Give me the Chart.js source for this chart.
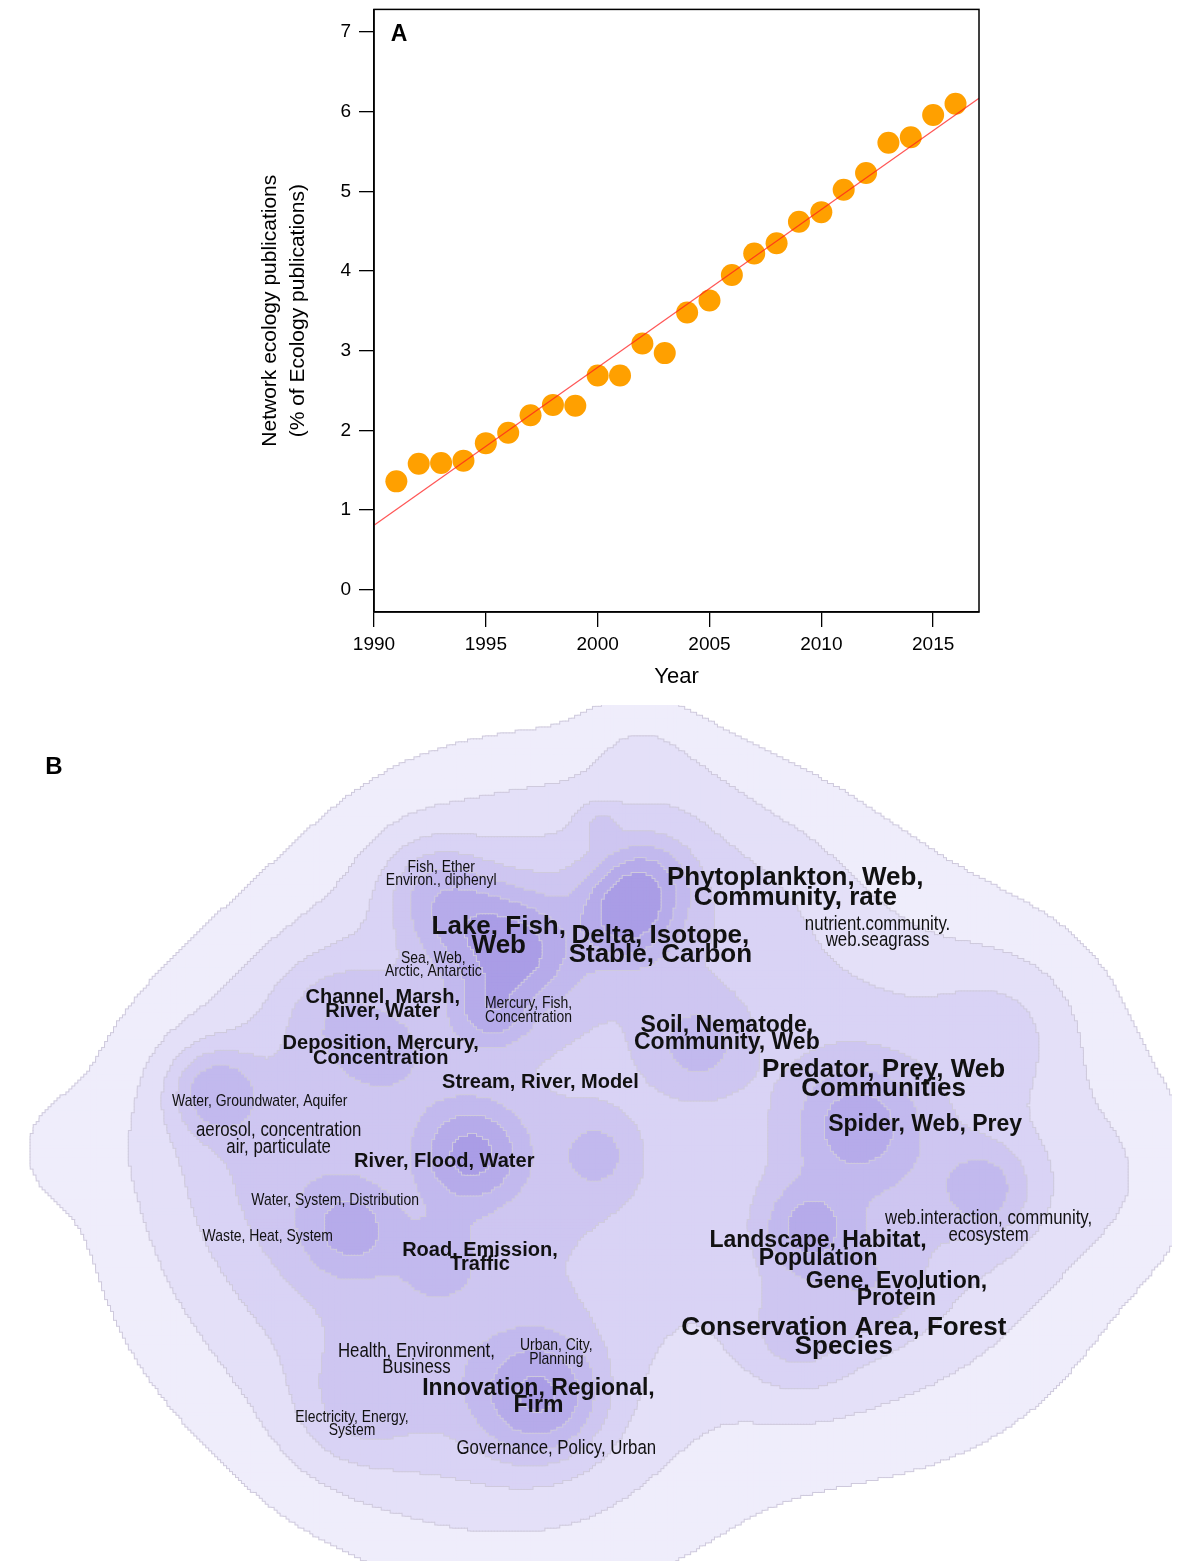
<!DOCTYPE html>
<html>
<head>
<meta charset="utf-8">
<script src="https://cdn.jsdelivr.net/npm/chart.js@4.4.1/dist/chart.umd.min.js"></script>
<style>
  html, body { margin: 0; padding: 0; background: #fff; overflow: hidden; }
  #wrapA { position: absolute; left: 0; top: -10px; width: 1177px; height: 710px; }
  #wrapB { position: absolute; left: 0; top: 700px; width: 1177px; height: 866px; }
</style>
</head>
<body>
<div id="wrapA"><canvas id="chartA"></canvas></div>
<div id="wrapB"><canvas id="chartB"></canvas></div>
<script>
// --- Panel A data ---
const years = [1991, 1992, 1993, 1994, 1995, 1996, 1997, 1998, 1999, 2000, 2001, 2002, 2003,
  2004, 2005, 2006, 2007, 2008, 2009, 2010, 2011, 2012, 2013, 2014, 2015, 2016];
const sharePct = [1.36, 1.58, 1.59, 1.62, 1.84, 1.97, 2.19, 2.32, 2.31, 2.69, 2.69, 3.09, 2.97,
  3.48, 3.63, 3.95, 4.22, 4.35, 4.62, 4.74, 5.02, 5.23, 5.61, 5.68, 5.96, 6.10];
const fitYears = [1990, 2017.05];
const fitPct = [0.81, 6.17];
const xTickYears = [1990, 1995, 2000, 2005, 2010, 2015];
const yTickPct = [0, 1, 2, 3, 4, 5, 6, 7];

// --- Panel B data (map coordinates, y grows downward) ---
// density hotspots of the topic map: broad base, mid-level regions, cores
const hotX = [600, 430, 620, 820, 980, 920, 560, 400, 280, 280, 60, 640, 1120, 680,
  480, 640, 760, 240, 320, 340, 560, 600, 850, 820, 980, 1000, 500, 380,
  520, 430, 470, 625, 645, 490, 210, 470, 350, 440, 597, 700, 860, 810, 990, 800, 880, 540, 350, 330, 390, 600, 1010];
const hotY = [450, 290, 215, 300, 420, 590, 700, 660, 430, 580, 450, 45, 480, 95,
  200, 200, 190, 430, 530, 320, 420, 520, 420, 580, 500, 320, 700, 700,
  250, 185, 225, 215, 180, 310, 390, 455, 530, 560, 455, 345, 425, 530, 490, 640, 590, 700, 710, 310, 355, 120, 330];
const hotW = [0.30, 0.25, 0.24, 0.25, 0.28, 0.25, 0.27, 0.22, 0.28, 0.22, 0.13, 0.16, 0.15, 0.12,
  0.27, 0.27, 0.18, 0.27, 0.27, 0.18, 0.25, 0.22, 0.27, 0.27, 0.18, 0.14, 0.27, 0.18,
  0.90, 0.50, 0.60, 0.90, 0.70, 0.70, 0.70, 1.10, 0.60, 0.40, 0.40, 0.50, 0.70, 0.70, 0.50, 0.40, 0.30, 1.00, 0.30, 0.30, 0.30, 0.30, 0.20];
const hotS = [230, 115, 100, 115, 130, 120, 130, 110, 120, 120, 38, 35, 60, 45,
  90, 90, 70, 80, 80, 70, 100, 90, 90, 90, 70, 60, 90, 70,
  35, 35, 35, 30, 30, 25, 30, 35, 30, 30, 25, 35, 40, 30, 30, 40, 35, 40, 40, 40, 40, 15, 45];
const levelCuts = [0.15, 0.35, 0.6, 0.85, 1.1, 1.4, 1.75];

const labelText = [
  'Fish, Ether\nEnviron., diphenyl', 'Lake, Fish,\nWeb', 'Delta, Isotope,\nStable, Carbon',
  'Phytoplankton, Web,\nCommunity, rate', 'nutrient.community.\nweb.seagrass', 'Sea, Web,\nArctic, Antarctic',
  'Channel, Marsh,\nRiver, Water', 'Mercury, Fish,\nConcentration', 'Soil, Nematode,\nCommunity, Web',
  'Deposition, Mercury,\nConcentration', 'Stream, River, Model', 'Predator, Prey, Web\nCommunities',
  'Water, Groundwater, Aquifer', 'aerosol, concentration\nair, particulate', 'Spider, Web, Prey',
  'River, Flood, Water', 'Water, System, Distribution', 'web.interaction, community,\necosystem',
  'Waste, Heat, System', 'Landscape, Habitat,\nPopulation', 'Road, Emission,\nTraffic',
  'Gene, Evolution,\nProtein', 'Conservation Area, Forest\nSpecies', 'Health, Environment,\nBusiness',
  'Urban, City,\nPlanning', 'Innovation, Regional,\nFirm', 'Electricity, Energy,\nSystem',
  'Governance, Policy, Urban'
];
const labelX = [440, 498, 661, 797, 880, 432, 381, 528, 728, 379, 540, 886, 257, 276, 928,
  443, 333, 992, 265, 820, 479, 899, 846, 415, 556, 538, 350, 556];
const labelY = [171, 234, 243, 185, 230, 263, 303, 309, 333, 350, 382, 379, 401, 439, 425,
  462, 501, 528, 538, 551, 559, 592, 640, 662, 655, 700, 727, 752];
const labelRank = [0, 4, 4, 4, 1, 0, 2, 0, 3, 2, 2, 4, 0, 1, 3, 2, 0, 1, 0, 3, 2, 3, 4, 1, 0, 3, 0, 1];

const FONT = "'Liberation Sans', Arial, Helvetica, sans-serif";
const levelColors = ['#efedfb', '#e4e0f8', '#d9d3f5', '#cec6f1', '#c2b9ee', '#b6abea', '#aa9de6'];
const edgeColor = '#cfcadd';
const rankStyle = [
  { size: 17, bold: false, squeeze: 0.82 },
  { size: 20.5, bold: false, squeeze: 0.82 },
  { size: 20, bold: true, squeeze: 1 },
  { size: 23, bold: true, squeeze: 1 },
  { size: 26, bold: true, squeeze: 1 }
];

// --- Panel A ---
const boxPlugin = {
  id: 'box',
  afterDraw(chart) {
    const { ctx, chartArea: a } = chart;
    ctx.save();
    ctx.strokeStyle = '#000';
    ctx.lineWidth = 1.5;
    ctx.strokeRect(a.left, a.top, a.right - a.left, a.bottom - a.top);
    ctx.font = 'bold 23px ' + FONT;
    ctx.fillStyle = '#000';
    ctx.textAlign = 'center';
    ctx.textBaseline = 'middle';
    ctx.fillText('A', a.left + 25, a.top + 25);
    ctx.restore();
  }
};

new Chart(document.getElementById('chartA'), {
  type: 'scatter',
  data: {
    datasets: [
      {
        label: 'Fit',
        data: fitYears.map((x, i) => ({ x, y: fitPct[i] })),
        showLine: true,
        borderColor: 'rgba(255, 30, 30, 0.75)',
        borderWidth: 1.2,
        pointRadius: 0
      },
      {
        label: 'Network ecology',
        data: years.map((x, i) => ({ x, y: sharePct[i] })),
        backgroundColor: '#ffa000',
        borderWidth: 0,
        pointRadius: 11
      }
    ]
  },
  options: {
    responsive: true,
    maintainAspectRatio: false,
    animation: false,
    events: [],
    layout: { padding: { left: 256, top: 0, right: 198, bottom: 0 } },
    plugins: { legend: { display: false }, tooltip: { enabled: false } },
    scales: {
      x: {
        type: 'linear',
        min: 1990,
        max: 2017.05,
        afterBuildTicks: s => { s.ticks = xTickYears.map(v => ({ value: v })); },
        afterFit: s => { s.height = 88; },
        grid: { drawOnChartArea: false, drawTicks: true, tickLength: 15, color: '#000', lineWidth: 1.3 },
        border: { display: true, color: '#000', width: 1.5 },
        ticks: { color: '#000', font: { family: FONT, size: 19 }, padding: 6, maxRotation: 0, callback: v => String(v) },
        title: { display: true, text: 'Year', color: '#000', font: { family: FONT, size: 22 }, padding: { top: 0, bottom: 10 } }
      },
      y: {
        type: 'linear',
        min: -0.28,
        max: 7.285,
        afterBuildTicks: s => { s.ticks = yTickPct.map(v => ({ value: v })); },
        afterFit: s => { s.width = 118; },
        grid: { drawOnChartArea: false, drawTicks: true, tickLength: 15, color: '#000', lineWidth: 1.3 },
        border: { display: true, color: '#000', width: 1.5 },
        ticks: { color: '#000', font: { family: FONT, size: 19 }, padding: 8 },
        title: {
          display: true,
          text: ['Network ecology publications', '(% of Ecology publications)'],
          color: '#000',
          font: { family: FONT, size: 21, lineHeight: 1.33 },
          padding: { top: 0, bottom: 0 }
        }
      }
    }
  },
  plugins: [boxPlugin]
});

// --- Panel B ---
const mapW = 1177, mapH = 866, step = 3;
const levelData = levelColors.map(() => []);
for (let gy = step / 2; gy < mapH; gy += step) {
  for (let gx = step / 2; gx < mapW; gx += step) {
    let d = 0;
    for (let k = 0; k < hotX.length; k++) {
      const dx = gx - hotX[k], dy = gy - hotY[k];
      d += hotW[k] * Math.exp(-(dx * dx + dy * dy) / (2 * hotS[k] * hotS[k]));
    }
    let lv = -1;
    for (let c = 0; c < levelCuts.length; c++) if (d >= levelCuts[c]) lv = c;
    if (lv >= 0) levelData[lv].push({ x: gx, y: gy });
  }
}

// each level: a slightly bigger edge layer (contour line) then the fill
// rect side = 2 * r * SQRT1_2, so these give whole-pixel squares of 7 and 5
const edgeR = (step / 2 + 2) / Math.SQRT1_2;
const fillR = (step / 2 + 1) / Math.SQRT1_2;
const mapDatasets = [];
levelData.forEach((pts, i) => {
  mapDatasets.push({
    label: 'edge ' + (i + 1), data: pts, pointStyle: 'rect',
    pointRadius: edgeR, backgroundColor: edgeColor, borderWidth: 0
  });
  mapDatasets.push({
    label: 'level ' + (i + 1), data: pts, pointStyle: 'rect',
    pointRadius: fillR, backgroundColor: levelColors[i], borderWidth: 0
  });
});
// later datasets must paint on top
mapDatasets.forEach((ds, i) => { ds.order = mapDatasets.length - i; });

const labelPlugin = {
  id: 'labels',
  afterDatasetsDraw(chart) {
    const { ctx, scales } = chart;
    ctx.save();
    ctx.fillStyle = '#111';
    ctx.textAlign = 'center';
    ctx.textBaseline = 'middle';
    labelText.forEach((txt, i) => {
      const st = rankStyle[labelRank[i]];
      const lines = txt.split('\n');
      const lh = st.size * (st.bold ? 0.74 : 0.8);
      const px = scales.x.getPixelForValue(labelX[i]);
      const py = scales.y.getPixelForValue(labelY[i]);
      ctx.font = (st.bold ? 'bold ' : '') + st.size + 'px ' + FONT;
      lines.forEach((ln, j) => {
        const ly = py + (j - (lines.length - 1) / 2) * lh;
        ctx.save();
        ctx.translate(px, ly);
        ctx.scale(st.squeeze, 1);
        ctx.fillText(ln, 0, 0);
        ctx.restore();
      });
    });
    ctx.font = 'bold 24px ' + FONT;
    ctx.fillStyle = '#000';
    ctx.fillText('B', 54, 67);
    ctx.restore();
  }
};

new Chart(document.getElementById('chartB'), {
  type: 'scatter',
  data: { datasets: mapDatasets },
  options: {
    responsive: true,
    maintainAspectRatio: false,
    animation: false,
    events: [],
    parsing: false,
    normalized: true,
    layout: { padding: 0 },
    plugins: { legend: { display: false }, tooltip: { enabled: false } },
    scales: {
      x: { type: 'linear', min: 0, max: mapW, display: false },
      y: { type: 'linear', min: 0, max: mapH, reverse: true, display: false }
    }
  },
  plugins: [labelPlugin]
});
</script>
</body>
</html>
